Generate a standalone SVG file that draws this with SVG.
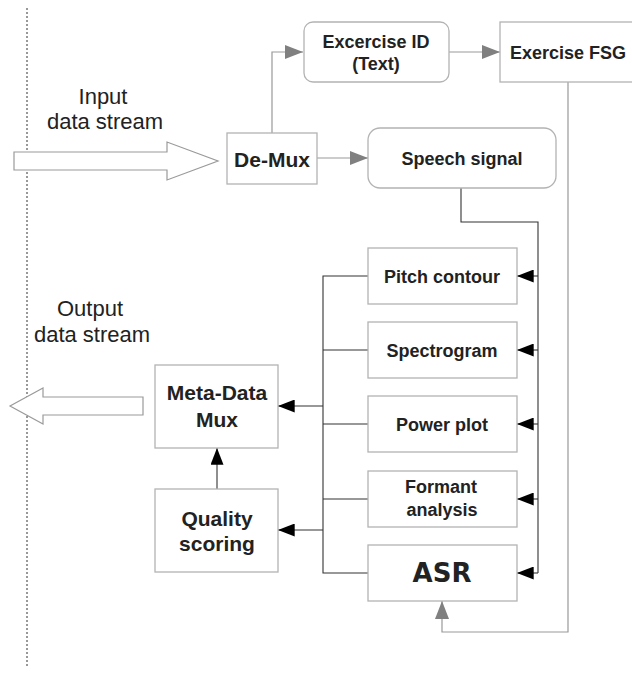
<svg xmlns="http://www.w3.org/2000/svg" width="632" height="673" viewBox="0 0 632 673">
  <style>
    .box { fill: #ffffff; stroke: #b3b3b3; stroke-width: 1.3; }
    .t { font-family: "Liberation Sans", Arial, sans-serif; fill: #222222; text-anchor: middle; }
    .b { font-weight: bold; }
    .gray { fill: none; stroke: #999999; stroke-width: 1.2; }
    .dark { fill: none; stroke: #333333; stroke-width: 1.1; }
    .hollow { fill: #ffffff; stroke: #9a9a9a; stroke-width: 1.2; }
  </style>
  <defs>
    <marker id="headGray" viewBox="0 0 18 14" refX="18" refY="7" markerWidth="18" markerHeight="14" markerUnits="userSpaceOnUse" orient="auto">
      <path d="M0,0 L18,7 L0,14 z" fill="#808080"/>
    </marker>
    <marker id="headBlack" viewBox="0 0 18 14" refX="18" refY="7" markerWidth="18" markerHeight="13" markerUnits="userSpaceOnUse" orient="auto">
      <path d="M0,0 L18,7 L0,14 z" fill="#000000"/>
    </marker>
  </defs>

  <rect width="632" height="673" fill="#ffffff"/>

  <!-- stream boundary -->
  <line x1="27" y1="8" x2="27" y2="666" stroke="#333333" stroke-width="1" stroke-dasharray="2,2"/>

  <!-- stream arrows and labels -->
  <g id="input-stream">
    <polygon class="hollow" points="14,152 167,152 167,142 218,161 167,180 167,170 14,170"/>
    <text class="t" x="103" y="104" font-size="22">Input</text>
    <text class="t" x="105" y="129" font-size="22">data stream</text>
  </g>
  <g id="output-stream">
    <polygon class="hollow" points="143,397 43,397 43,388 10,406 43,424 43,415 143,415"/>
    <text class="t" x="90" y="316" font-size="22">Output</text>
    <text class="t" x="92" y="342" font-size="22">data stream</text>
  </g>

  <!-- connectors -->
  <g id="connectors">
    <path class="gray" d="M272,133 V52 H303" marker-end="url(#headGray)"/>
    <path class="gray" d="M449,52 H500" marker-end="url(#headGray)"/>
    <path class="gray" d="M317,158 H368" marker-end="url(#headGray)"/>
    <path class="gray" d="M568,82 V632 H442 V601" marker-end="url(#headGray)"/>

    <path class="dark" d="M461,188 V222 H538 V573"/>
    <path class="dark" d="M538,276 H517" marker-end="url(#headBlack)"/>
    <path class="dark" d="M538,350 H517" marker-end="url(#headBlack)"/>
    <path class="dark" d="M538,424 H517" marker-end="url(#headBlack)"/>
    <path class="dark" d="M538,499 H517" marker-end="url(#headBlack)"/>
    <path class="dark" d="M538,573 H517" marker-end="url(#headBlack)"/>

    <path class="dark" d="M368,276 H323 V573 H368"/>
    <path class="dark" d="M368,350 H323"/>
    <path class="dark" d="M368,424 H323"/>
    <path class="dark" d="M368,499 H323"/>
    <path class="dark" d="M323,406 H278" marker-end="url(#headBlack)"/>
    <path class="dark" d="M323,530 H278" marker-end="url(#headBlack)"/>
    <path class="dark" d="M217,489 V448" marker-end="url(#headBlack)"/>
  </g>

  <!-- nodes -->
  <g id="demux">
    <rect class="box" x="227" y="133" width="90" height="51"/>
    <text class="t b" x="272" y="167" font-size="21">De-Mux</text>
  </g>
  <g id="exercise-id">
    <rect class="box" x="304" y="22" width="145" height="60" rx="9"/>
    <text class="t b" x="376" y="48" font-size="18">Excercise ID</text>
    <text class="t b" x="376" y="70" font-size="18">(Text)</text>
  </g>
  <g id="exercise-fsg">
    <rect class="box" x="500" y="22" width="140" height="60"/>
    <text class="t b" x="568" y="59" font-size="18">Exercise FSG</text>
  </g>
  <g id="speech-signal">
    <rect class="box" x="368" y="128" width="188" height="60" rx="12"/>
    <text class="t b" x="462" y="165" font-size="18">Speech signal</text>
  </g>
  <g id="pitch-contour">
    <rect class="box" x="368" y="248" width="149" height="56"/>
    <text class="t b" x="442" y="283" font-size="18">Pitch contour</text>
  </g>
  <g id="spectrogram">
    <rect class="box" x="368" y="322" width="149" height="56"/>
    <text class="t b" x="442" y="357" font-size="18">Spectrogram</text>
  </g>
  <g id="power-plot">
    <rect class="box" x="368" y="396" width="149" height="56"/>
    <text class="t b" x="442" y="431" font-size="18">Power plot</text>
  </g>
  <g id="formant-analysis">
    <rect class="box" x="368" y="471" width="149" height="56"/>
    <text class="t b" x="441" y="493" font-size="18">Formant</text>
    <text class="t b" x="442" y="516" font-size="18">analysis</text>
  </g>
  <g id="asr">
    <rect class="box" x="368" y="545" width="149" height="56"/>
    <text class="t b" x="442" y="582" font-size="26" style="font-family:'DejaVu Sans', sans-serif">ASR</text>
  </g>
  <g id="meta-data-mux">
    <rect class="box" x="155" y="365" width="123" height="83"/>
    <text class="t b" x="217" y="400" font-size="21">Meta-Data</text>
    <text class="t b" x="217" y="427" font-size="21">Mux</text>
  </g>
  <g id="quality-scoring">
    <rect class="box" x="155" y="489" width="123" height="83"/>
    <text class="t b" x="217" y="526" font-size="21">Quality</text>
    <text class="t b" x="217" y="551" font-size="21">scoring</text>
  </g>
</svg>
